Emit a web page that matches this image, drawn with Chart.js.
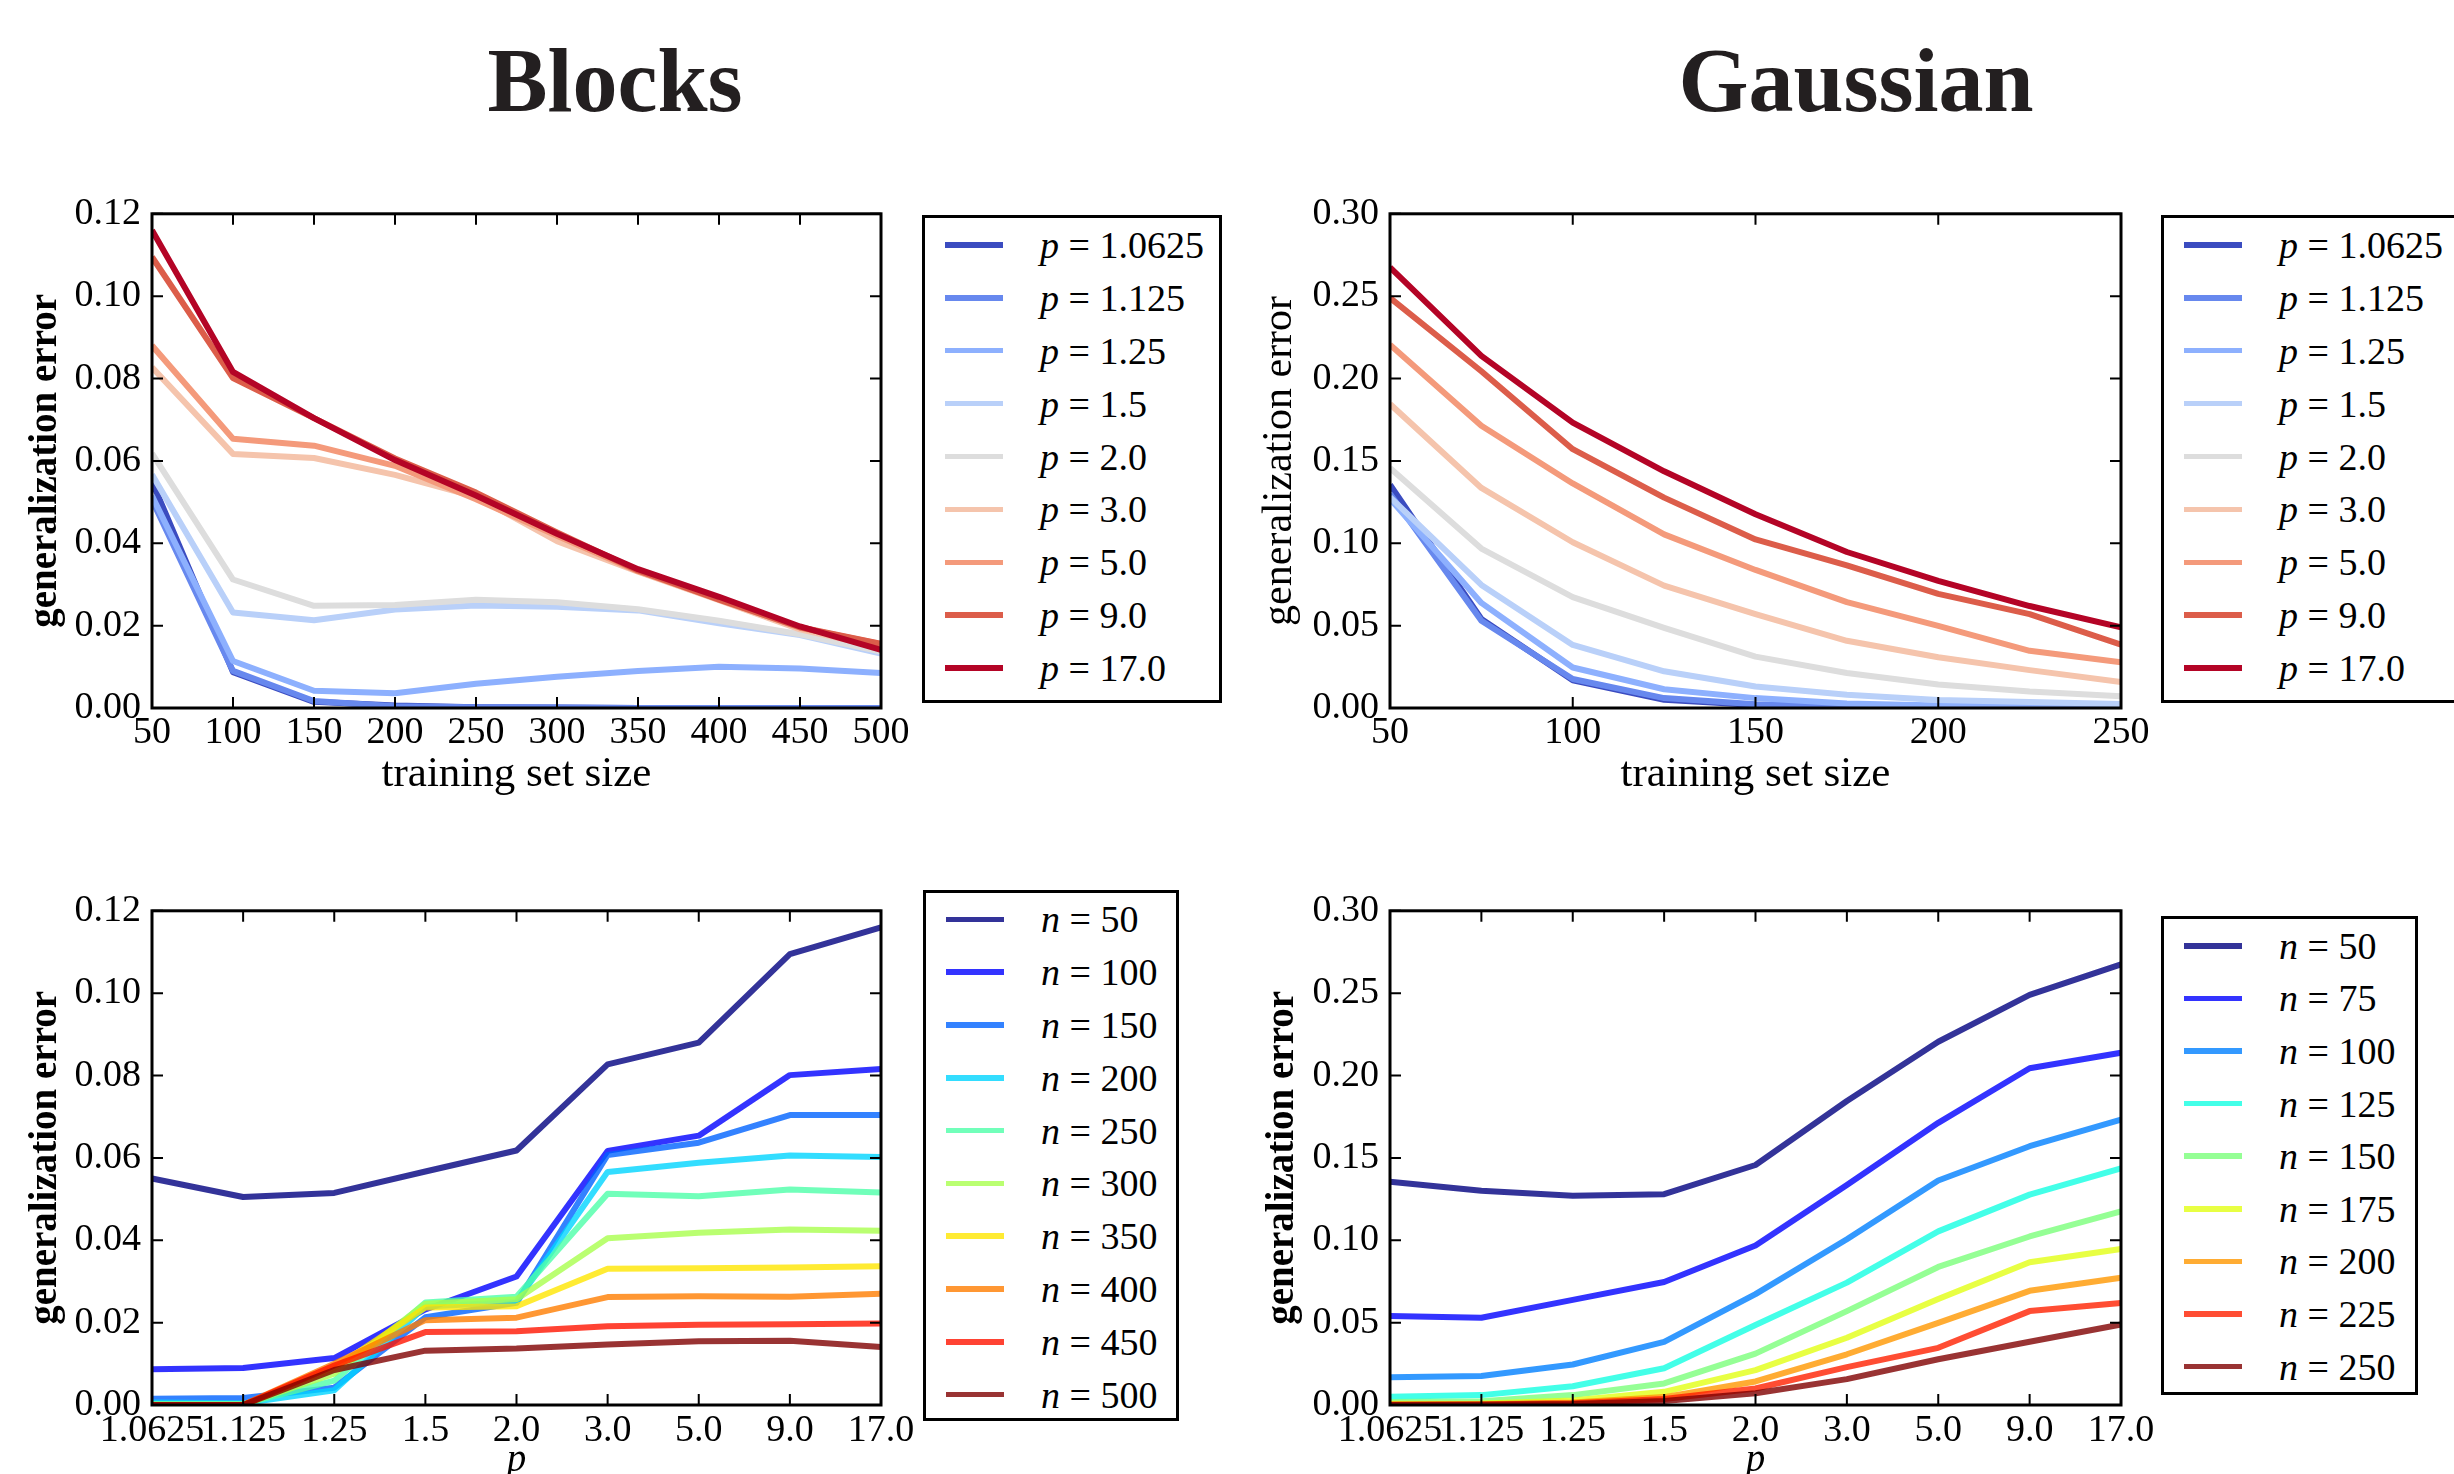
<!DOCTYPE html>
<html>
<head>
<meta charset="utf-8">
<script src="https://cdn.jsdelivr.net/npm/chart.js@4.4.1/dist/chart.umd.min.js"></script>
<style>
  html, body { margin: 0; padding: 0; background: #fff; }
  body { width: 2454px; height: 1474px; position: relative; overflow: hidden; font-family: "Liberation Serif", serif; color: #000; }
  .title { position: absolute; top: 36px; font: bold 90px/90px "Liberation Serif", serif; text-align: center; color: #231f20; }
  canvas { position: absolute; }
  .legend { position: absolute; border: 3px solid #000; box-sizing: border-box; background: #fff; }
  .row { display: flex; align-items: center; }
  .swatch { width: 58px; height: 5.5px; margin-left: 20px; flex: none; }
  .lbl { margin-left: 37px; font-size: 38px; white-space: nowrap; }
</style>
</head>
<body>
<div class="title" style="left:15px;width:1200px">Blocks</div>
<div class="title" style="left:1256px;width:1200px">Gaussian</div>

<script>
// training set sizes
const blockSizes = [50, 100, 150, 200, 250, 300, 350, 400, 450, 500];
const gaussSizes = [50, 75, 100, 125, 150, 175, 200, 225, 250];
const pLabels = ["1.0625", "1.125", "1.25", "1.5", "2.0", "3.0", "5.0", "9.0", "17.0"];

// Blocks: generalization error per p, over blockSizes
const blocksP1_0625 = [0.0550, 0.0087, 0.0015, 0.0006, 0.0002, 0.0001, 0.0000, 0.0000, 0.0000, 0.0000];
const blocksP1_125  = [0.0505, 0.0090, 0.0017, 0.0004, 0.0002, 0.0001, 0.0000, 0.0000, 0.0000, 0.0000];
const blocksP1_25   = [0.0515, 0.0114, 0.0042, 0.0036, 0.0059, 0.0076, 0.0090, 0.0100, 0.0096, 0.0085];
const blocksP1_5    = [0.0567, 0.0232, 0.0213, 0.0239, 0.0249, 0.0246, 0.0237, 0.0206, 0.0177, 0.0132];
const blocksP2_0    = [0.0618, 0.0312, 0.0248, 0.0250, 0.0263, 0.0257, 0.0240, 0.0212, 0.0179, 0.0137];
const blocksP3_0    = [0.0827, 0.0617, 0.0607, 0.0566, 0.0513, 0.0405, 0.0331, 0.0262, 0.0191, 0.0147];
const blocksP5_0    = [0.0880, 0.0654, 0.0637, 0.0588, 0.0507, 0.0418, 0.0332, 0.0264, 0.0195, 0.0155];
const blocksP9_0    = [0.1095, 0.0801, 0.0704, 0.0606, 0.0523, 0.0426, 0.0334, 0.0263, 0.0196, 0.0156];
const blocksP17_0   = [0.1160, 0.0816, 0.0704, 0.0602, 0.0516, 0.0423, 0.0337, 0.0270, 0.0198, 0.0141];

// Gaussian: generalization error per p, over gaussSizes
const gaussP1_0625 = [0.1355, 0.0540, 0.0168, 0.0050, 0.0018, 0.0007, 0.0003, 0.0001, 0.0000];
const gaussP1_125  = [0.1300, 0.0530, 0.0176, 0.0060, 0.0023, 0.0009, 0.0005, 0.0003, 0.0001];
const gaussP1_25   = [0.1270, 0.0638, 0.0246, 0.0114, 0.0060, 0.0028, 0.0015, 0.0010, 0.0006];
const gaussP1_5    = [0.1280, 0.0747, 0.0383, 0.0223, 0.0131, 0.0080, 0.0048, 0.0037, 0.0024];
const gaussP2_0    = [0.1457, 0.0968, 0.0673, 0.0486, 0.0312, 0.0212, 0.0143, 0.0100, 0.0071];
const gaussP3_0    = [0.1845, 0.1336, 0.1006, 0.0743, 0.0570, 0.0408, 0.0308, 0.0230, 0.0157];
const gaussP5_0    = [0.2205, 0.1713, 0.1363, 0.1054, 0.0838, 0.0643, 0.0498, 0.0347, 0.0278];
const gaussP9_0    = [0.2490, 0.2044, 0.1571, 0.1277, 0.1023, 0.0866, 0.0693, 0.0570, 0.0384];
const gaussP17_0   = [0.2675, 0.2138, 0.1732, 0.1437, 0.1176, 0.0947, 0.0772, 0.0619, 0.0489];

const blocksRows = [blocksP1_0625, blocksP1_125, blocksP1_25, blocksP1_5, blocksP2_0, blocksP3_0, blocksP5_0, blocksP9_0, blocksP17_0];
const gaussRows = [gaussP1_0625, gaussP1_125, gaussP1_25, gaussP1_5, gaussP2_0, gaussP3_0, gaussP5_0, gaussP9_0, gaussP17_0];

// colours: coolwarm for p, jet (alpha .8) for n
const pColors = ["#3b4cc0", "#6788ee", "#8db0fe", "#b9d0f9", "#dddddd", "#f5c4ac", "#f49a7b", "#dc5d4a", "#b40426"];
const blocksNColors = ["rgba(0,0,127,0.8)", "rgba(0,0,255,0.8)", "rgba(0,99,255,0.8)", "rgba(0,212,255,0.8)", "rgba(77,255,169,0.8)",
  "rgba(169,255,77,0.8)", "rgba(255,230,0,0.8)", "rgba(255,125,0,0.8)", "rgba(255,20,0,0.8)", "rgba(127,0,0,0.8)"];
const gaussNColors = ["rgba(0,0,127,0.8)", "rgba(0,0,255,0.8)", "rgba(0,128,255,0.8)", "rgba(20,255,226,0.8)", "rgba(123,255,123,0.8)",
  "rgba(226,255,20,0.8)", "rgba(255,151,0,0.8)", "rgba(255,33,0,0.8)", "rgba(127,0,0,0.8)"];

const SERIF = "'Liberation Serif', 'Times New Roman', serif";
const PAD_TOP = 30, PAD_RIGHT = 40;

// frame + inward ticks on all four sides, like matplotlib
const frameTicks = {
  id: "frameTicks",
  afterDatasetsDraw(chart) {
    const { ctx, chartArea: a, scales: { x, y } } = chart;
    ctx.save();
    ctx.strokeStyle = "#000";
    ctx.lineWidth = 2;
    ctx.beginPath();
    x.ticks.forEach((t, i) => {
      const px = x.getPixelForTick(i);
      ctx.moveTo(px, a.bottom); ctx.lineTo(px, a.bottom - 11);
      ctx.moveTo(px, a.top); ctx.lineTo(px, a.top + 11);
    });
    y.ticks.forEach((t, i) => {
      const py = y.getPixelForTick(i);
      ctx.moveTo(a.left, py); ctx.lineTo(a.left + 11, py);
      ctx.moveTo(a.right, py); ctx.lineTo(a.right - 11, py);
    });
    ctx.stroke();
    ctx.lineWidth = 3;
    ctx.strokeRect(a.left, a.top, a.right - a.left, a.bottom - a.top);
    ctx.restore();
  }
};

function makePanel(p) {
  const canvas = document.createElement("canvas");
  const w = p.AW + p.W + PAD_RIGHT, h = PAD_TOP + p.H + p.XH;
  canvas.width = w; canvas.height = h;
  canvas.style.left = (p.L - p.AW) + "px";
  canvas.style.top = (p.T - PAD_TOP) + "px";
  canvas.style.width = w + "px"; canvas.style.height = h + "px";
  document.body.appendChild(canvas);

  const n = p.datasets.length;
  const datasets = p.datasets.map((d, i) => ({
    data: d.data,
    borderColor: d.color,
    backgroundColor: d.color,
    borderWidth: 6,
    borderJoinStyle: "round",
    pointRadius: 0,
    tension: 0,
    fill: false,
    order: n - i
  }));

  const xScale = p.xCat
    ? { type: "category", ticks: { autoSkip: false } }
    : { type: "linear", min: p.xMin, max: p.xMax, ticks: { stepSize: 50, callback: v => String(v) } };
  Object.assign(xScale.ticks, { font: { family: SERIF, size: 38 }, color: "#000", padding: p.xTickPad, maxRotation: 0, minRotation: 0 });
  Object.assign(xScale, {
    grid: { display: false, drawTicks: false },
    border: { display: false },
    title: { display: true, text: p.xTitle, color: "#000", padding: 0, font: p.xTitleFont },
    afterFit: s => { s.height = p.XH; }
  });

  new Chart(canvas, {
    type: "line",
    data: p.xCat ? { labels: pLabels, datasets } : { datasets },
    options: {
      responsive: false,
      animation: false,
      devicePixelRatio: 1,
      layout: { padding: { top: PAD_TOP, right: PAD_RIGHT, left: 0, bottom: 0 } },
      plugins: { legend: { display: false }, tooltip: { enabled: false } },
      scales: {
        x: xScale,
        y: {
          type: "linear",
          min: 0,
          max: p.yMax,
          ticks: { stepSize: p.yStep, callback: v => v.toFixed(2), font: { family: SERIF, size: 38 }, color: "#000", padding: 11 },
          grid: { display: false, drawTicks: false },
          border: { display: false },
          title: { display: true, text: "generalization error", color: "#000", padding: 0, font: p.yTitleFont },
          afterFit: s => { s.width = p.AW; }
        }
      }
    },
    plugins: [frameTicks]
  });
}

function makeLegend(l) {
  const box = document.createElement("div");
  box.className = "legend";
  Object.assign(box.style, { left: l.left + "px", top: l.top + "px", width: l.width + "px", height: l.height + "px", paddingTop: l.padTop + "px" });
  l.labels.forEach((lab, i) => {
    const row = document.createElement("div");
    row.className = "row";
    row.style.height = l.rowH + "px";
    row.innerHTML = '<span class="swatch" style="background:' + l.colors[i] + '"></span>' +
      '<span class="lbl"><i>' + l.sym + '</i> = ' + lab + '</span>';
    box.appendChild(row);
  });
  document.body.appendChild(box);
}

const boldLabel = { family: SERIF, size: 39, weight: "bold" };
const plainLabel = { family: SERIF, size: 42, weight: "normal" };
const xTrain = { family: SERIF, size: 43, weight: "normal" };
const xP = { family: SERIF, size: 39, style: "italic" };

// top row: error vs training set size, one line per p
makePanel({
  L: 152, T: 210, W: 729, H: 498, AW: 129, XH: 93, xTickPad: 2,
  xMin: 50, xMax: 500, yMax: 0.12, yStep: 0.02,
  xTitle: "training set size", xTitleFont: xTrain, yTitleFont: boldLabel,
  datasets: blocksRows.map((row, i) => ({ data: row.map((v, j) => ({ x: blockSizes[j], y: v })), color: pColors[i] }))
});
makePanel({
  L: 1390, T: 210, W: 731, H: 498, AW: 135, XH: 93, xTickPad: 2,
  xMin: 50, xMax: 250, yMax: 0.30, yStep: 0.05,
  xTitle: "training set size", xTitleFont: xTrain, yTitleFont: plainLabel,
  datasets: gaussRows.map((row, i) => ({ data: row.map((v, j) => ({ x: gaussSizes[j], y: v })), color: pColors[i] }))
});

// bottom row: error vs p, one line per n (same values, transposed)
makePanel({
  L: 152, T: 907, W: 729, H: 498, AW: 129, XH: 79, xTickPad: 3, xCat: true,
  yMax: 0.12, yStep: 0.02,
  xTitle: "p", xTitleFont: xP, yTitleFont: boldLabel,
  datasets: blockSizes.map((nv, j) => ({ data: blocksRows.map(row => row[j]), color: blocksNColors[j] }))
});
makePanel({
  L: 1390, T: 907, W: 731, H: 498, AW: 130, XH: 79, xTickPad: 3, xCat: true,
  yMax: 0.30, yStep: 0.05,
  xTitle: "p", xTitleFont: xP, yTitleFont: boldLabel,
  datasets: gaussSizes.map((nv, j) => ({ data: gaussRows.map(row => row[j]), color: gaussNColors[j] }))
});

makeLegend({ left: 922, top: 215, width: 300, height: 488, padTop: 0.5, rowH: 52.9, sym: "p", labels: pLabels, colors: pColors });
makeLegend({ left: 2161, top: 215, width: 310, height: 488, padTop: 0.5, rowH: 52.9, sym: "p", labels: pLabels, colors: pColors });
makeLegend({ left: 923, top: 890, width: 256, height: 531, padTop: 0, rowH: 52.8, sym: "n", labels: blockSizes, colors: blocksNColors });
makeLegend({ left: 2161, top: 916, width: 257, height: 479, padTop: 0.5, rowH: 52.6, sym: "n", labels: gaussSizes, colors: gaussNColors });
</script>
</body>
</html>
